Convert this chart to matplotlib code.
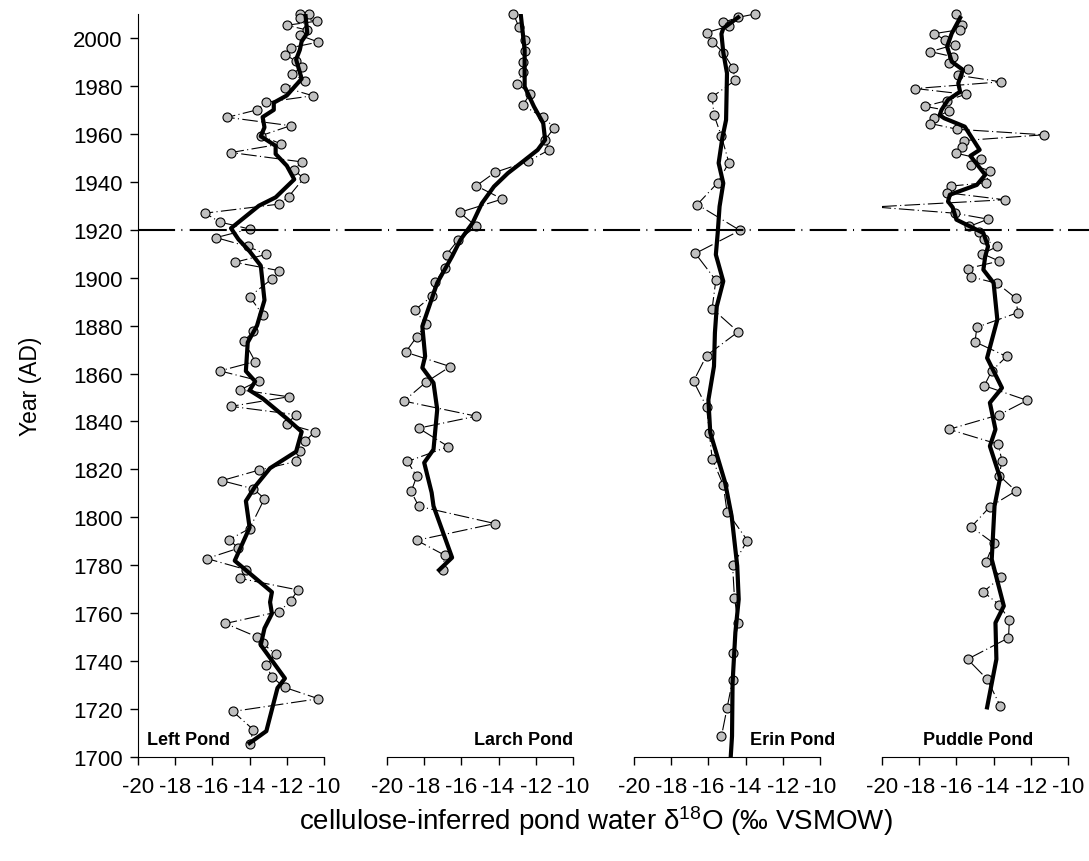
import matplotlib

matplotlib.use("Agg")

import matplotlib.pyplot as plt
from matplotlib.lines import Line2D
from matplotlib.transforms import Bbox, TransformedBbox, blended_transform_factory

plt.rcParams["font.family"] = ["Liberation Sans", "DejaVu Sans"]
plt.rcParams["axes.unicode_minus"] = False
plt.rcParams["mathtext.default"] = "regular"

# ---- data ----
ponds = ["Left Pond", "Larch Pond", "Erin Pond", "Puddle Pond"]

left_years = [2010.2, 2009.9, 2008.5, 2007.0, 2005.3, 2003.3, 2001.1, 1998.3, 1995.9, 1993.0,
              1990.4, 1987.8, 1985.0, 1982.0, 1979.3, 1975.9, 1973.2, 1970.0, 1966.9, 1963.4,
              1959.2, 1955.8, 1952.2, 1948.3, 1944.9, 1941.4, 1933.8, 1930.7, 1926.9, 1923.2,
              1920.3, 1916.7, 1913.0, 1909.7, 1906.4, 1902.9, 1899.5, 1892.1, 1884.6, 1877.6,
              1873.6, 1865.0, 1861.1, 1857.0, 1853.2, 1850.3, 1846.3, 1842.8, 1839.0, 1835.7,
              1831.9, 1827.6, 1823.3, 1819.7, 1815.3, 1811.9, 1807.8, 1795.3, 1790.7, 1787.1,
              1782.8, 1778.2, 1774.5, 1769.7, 1765.1, 1760.7, 1755.7, 1750.1, 1747.4, 1742.9,
              1738.3, 1733.3, 1729.0, 1724.3, 1719.0, 1711.4, 1705.3]
left_d18o = [-10.8, -11.3, -11.3, -10.4, -12.0, -10.9, -11.3, -10.3, -11.8, -12.1,
             -11.5, -11.2, -11.7, -11.0, -12.1, -10.6, -13.1, -13.6, -15.2, -11.8,
             -13.4, -12.3, -15.0, -11.2, -11.6, -11.1, -11.9, -12.4, -16.4, -15.6,
             -14.0, -15.8, -14.1, -13.1, -14.8, -12.4, -12.8, -14.0, -13.3, -13.8,
             -14.3, -13.7, -15.6, -13.5, -14.5, -11.9, -15.0, -11.5, -12.0, -10.5,
             -11.0, -11.3, -11.5, -13.5, -15.5, -13.8, -13.2, -14.0, -15.1, -14.6,
             -16.3, -14.2, -14.5, -11.4, -11.8, -12.4, -15.3, -13.6, -13.3, -12.6,
             -13.1, -12.8, -12.1, -10.3, -14.9, -13.8, -14.0]
left_smooth_years = [2010, 2002, 1998.6, 1995, 1991, 1983, 1976, 1973, 1970, 1967,
                     1962.7, 1959, 1955, 1951.6, 1946.7, 1941, 1933.5, 1930, 1920.6, 1916,
                     1911, 1905, 1890.6, 1880, 1873, 1861, 1856.7, 1853, 1849.6, 1841.2,
                     1835.7, 1827.4, 1820.5, 1812.9, 1806.8, 1795.7, 1781.9, 1768.8, 1764.6,
                     1759.8, 1753.7, 1746.7, 1732.8, 1728.8, 1710.8, 1705.8]
left_smooth = [-11.0, -10.9, -11.2, -11.3, -11.5, -11.2, -12.0, -12.7, -12.7, -13.3,
               -13.2, -13.4, -12.6, -12.6, -12.0, -11.6, -12.6, -13.5, -15.0, -14.6,
               -14.0, -13.4, -13.2, -13.6, -14.1, -14.2, -13.7, -14.0, -13.3, -12.0,
               -11.2, -11.5, -12.9, -13.7, -14.2, -14.0, -14.8, -12.8, -12.9,
               -12.8, -13.2, -13.4, -12.1, -12.5, -13.1, -14.0]

larch_years = [2010.0, 2004.4, 1999.2, 1994.7, 1990.1, 1985.8, 1980.9, 1976.8, 1971.9, 1966.9,
               1962.6, 1957.5, 1953.2, 1948.6, 1943.9, 1938.3, 1932.8, 1927.2, 1921.4, 1915.5,
               1909.6, 1904.0, 1898.2, 1892.2, 1886.5, 1880.5, 1875.3, 1868.9, 1862.9, 1856.4,
               1848.5, 1842.2, 1837.2, 1829.5, 1823.3, 1817.1, 1810.8, 1804.6, 1797.4, 1790.4,
               1784.2, 1778.0]
larch_d18o = [-13.2, -12.9, -12.6, -12.6, -12.7, -12.7, -13.0, -12.3, -12.7, -11.6,
              -11.0, -11.5, -11.3, -12.4, -14.2, -15.2, -13.8, -16.1, -15.2, -16.2,
              -16.8, -16.9, -17.4, -17.6, -18.5, -17.9, -18.4, -19.0, -16.6, -17.9,
              -19.1, -15.2, -18.3, -16.7, -18.9, -18.4, -18.7, -18.3, -14.2, -18.4,
              -16.9, -17.0]
larch_smooth_years = [2009.2, 1995, 1979.7, 1971.4, 1964.4, 1957.5, 1953.3, 1947.8, 1943.6, 1938,
                      1931, 1922.8, 1915.8, 1908.9, 1897.8, 1879.7, 1867.2, 1862.4, 1856.1, 1845,
                      1828.3, 1822.8, 1810.3, 1804.7, 1783.2, 1778]
larch_smooth = [-12.8, -12.6, -12.6, -12.1, -11.6, -11.5, -11.9, -12.8, -13.5, -14.25,
                -14.9, -15.4, -16.05, -16.5, -17.3, -18.1, -17.95, -18.1, -17.5, -17.3,
                -17.5, -18.0, -17.6, -17.5, -16.5, -17.2]

erin_years = [2010.0, 2008.6, 2006.5, 2005.0, 2002.2, 1998.5, 1993.9, 1987.6, 1982.4, 1975.4,
              1967.9, 1959.0, 1948.0, 1939.6, 1930.5, 1919.7, 1910.1, 1898.9, 1887.1, 1877.4,
              1867.5, 1856.8, 1846.1, 1835.3, 1824.5, 1813.5, 1802.4, 1790.3, 1779.9, 1766.5,
              1756.0, 1743.5, 1732.2, 1720.3, 1708.6]
erin_d18o = [-13.5, -14.4, -15.2, -14.9, -16.1, -15.8, -15.2, -14.7, -14.55, -15.8,
             -15.7, -15.3, -14.9, -15.5, -16.6, -14.3, -16.7, -15.6, -15.8, -14.4,
             -16.1, -16.8, -16.1, -15.95, -15.8, -15.2, -15.0, -13.9, -14.7, -14.6,
             -14.4, -14.7, -14.7, -15.0, -15.3]
erin_smooth_years = [2008.6, 2004, 2001.7, 1994, 1985.3, 1965.8, 1958.3, 1947.8, 1939.4, 1929.7,
                     1918.6, 1909.6, 1898.5, 1888, 1877, 1863, 1849, 1835.3, 1814.5, 1800.5,
                     1779.7, 1765.8, 1752, 1731, 1708.7, 1700]
erin_smooth = [-14.4, -15.2, -15.3, -15.2, -15.0, -15.05, -15.25, -15.45, -15.2, -15.4,
               -15.5, -15.6, -15.2, -15.55, -15.65, -15.7, -16.0, -15.9, -15.1, -14.75,
               -14.45, -14.37, -14.55, -14.7, -14.73, -14.8]

puddle_years = [2010.0, 2005.4, 2003.5, 2001.8, 1999.2, 1997.2, 1994.3, 1992.2, 1989.4, 1986.9,
                1984.4, 1981.7, 1978.9, 1976.5, 1973.9, 1971.5, 1969.6, 1966.5, 1964.3, 1961.9,
                1959.6, 1957.2, 1954.6, 1951.9, 1949.6, 1947.1, 1944.6, 1939.6, 1938.2, 1935.4,
                1932.5, 1929.5, 1926.9, 1924.4, 1921.4, 1918.9, 1916.1, 1913.0, 1910.0, 1906.9,
                1903.8, 1900.3, 1897.6, 1891.4, 1885.4, 1879.3, 1873.2, 1867.1, 1861.1, 1854.9,
                1848.8, 1842.8, 1836.7, 1830.5, 1823.6, 1817.4, 1811.0, 1804.4, 1796.0, 1789.2,
                1781.5, 1775.1, 1768.9, 1763.5, 1757.1, 1749.7, 1740.8, 1732.5, 1721.4]
puddle_d18o = [-16.0, -15.7, -15.8, -17.2, -16.6, -16.1, -17.4, -16.2, -16.4, -15.4,
               -15.9, -13.6, -18.2, -15.5, -16.5, -17.7, -16.4, -17.2, -17.4, -15.95,
               -11.3, -15.6, -15.7, -16.0, -14.7, -15.2, -14.2, -14.4, -16.3, -16.5,
               -13.4, -20.4, -16.1, -14.3, -15.3, -14.8, -14.5, -13.8, -14.6, -13.7,
               -15.4, -15.2, -13.8, -12.8, -12.7, -14.9, -15.0, -13.3, -14.1, -14.5,
               -12.2, -13.7, -16.4, -13.75, -13.55, -13.7, -12.8, -14.2, -15.2, -14.0,
               -14.4, -13.6, -14.55, -13.7, -13.15, -13.2, -15.4, -14.35, -13.65]
puddle_smooth_years = [2008.4, 2001.9, 1996.4, 1990.1, 1986.7, 1981.1, 1977.6, 1974.2, 1970, 1967.8,
                       1966.5, 1963, 1953.3, 1950.8, 1942.9, 1938.7, 1934.6, 1931.8, 1929.3, 1924.2,
                       1918.6, 1913, 1908.9, 1903.3, 1897.8, 1882.5, 1866.5, 1854, 1847.8, 1836.7,
                       1829.7, 1816.5, 1804.7, 1782.5, 1763, 1756, 1740.8, 1720.7]
puddle_smooth = [-15.8, -16.25, -16.5, -16.25, -15.65, -15.9, -15.8, -16.45, -16.8, -16.9,
                 -16.65, -15.55, -14.75, -15.25, -14.45, -14.9, -16.35, -16.45, -16.2, -16.0,
                 -14.55, -14.3, -14.45, -14.55, -14.0, -13.8, -14.35, -13.55, -14.2, -13.9,
                 -14.2, -13.65, -13.95, -14.1, -13.45, -13.9, -13.85, -14.35]

series = [
    (left_years, left_d18o, left_smooth_years, left_smooth),
    (larch_years, larch_d18o, larch_smooth_years, larch_smooth),
    (erin_years, erin_d18o, erin_smooth_years, erin_smooth),
    (puddle_years, puddle_d18o, puddle_smooth_years, puddle_smooth),
]

x_ticks = [-20, -18, -16, -14, -12, -10]
y_ticks = list(range(1700, 2001, 20))
marker_year = 1920

# ---- layout (pixels of a 1089x862 canvas) ----
W, H = 1089, 862
panel_left = [138, 387, 634, 882]
panel_w = 186
ax_bottom, ax_top = 758, 15
label_pos = [(0.05, "left"), (1.0, "right"), (1.08, "right"), (0.516, "center")]

fig = plt.figure(figsize=(W / 100, H / 100), dpi=100)
axes = []
for i, name in enumerate(ponds):
    ax = fig.add_axes([panel_left[i] / W, 1 - ax_bottom / H, panel_w / W, (ax_bottom - ax_top) / H])
    axes.append(ax)
    yrs, vals, syrs, svals = series[i]

    # clip only left/right so points at the top edge stay whole
    clip = TransformedBbox(Bbox([[0, -0.05], [1, 1.05]]), ax.transAxes)
    thin, = ax.plot(vals, yrs, color="black", lw=0.8, linestyle=(0, (14, 3, 1, 3)), zorder=2)
    pts, = ax.plot(vals, yrs, "o", ms=6.5, mfc="#c0c0c0", mec="black", mew=0.8, zorder=3)
    for art in (thin, pts):
        art.set_clip_box(clip)
    ax.plot(svals, syrs, color="black", lw=3.0, solid_joinstyle="round", zorder=4)

    ax.set_xlim(-20, -10)
    ax.set_ylim(1700, 2010)
    ax.set_xticks(x_ticks)
    ax.tick_params(axis="x", direction="out", length=6, width=1, labelsize=16, pad=8)
    for s in ("top", "right"):
        ax.spines[s].set_visible(False)
    if i == 0:
        ax.set_yticks(y_ticks)
        ax.tick_params(axis="y", direction="out", length=6, width=1, labelsize=16, pad=5)
    else:
        ax.spines["left"].set_visible(False)
        ax.set_yticks([])

    xt, ha = label_pos[i]
    ax.text(xt, 0.024, name, transform=ax.transAxes, ha=ha, va="center",
            fontsize=13, fontweight="bold")

# dashed 1920 reference line across all panels
blend = blended_transform_factory(fig.transFigure, axes[0].transData)
fig.add_artist(Line2D([panel_left[0] / W, 1.0], [marker_year, marker_year], transform=blend,
                      color="black", lw=1.5, linestyle=(0, (17.8, 3, 0.5, 3.5))))

fig.text(31 / W, 1 - 386 / H, "Year (AD)", rotation=90, ha="center", va="center", fontsize=16.5)
fig.text(596 / W, 1 - 821 / H, "cellulose-inferred pond water δ$^{18}$O (‰ VSMOW)",
         ha="center", va="center", fontsize=20)

fig.savefig("out.png", dpi=100)
